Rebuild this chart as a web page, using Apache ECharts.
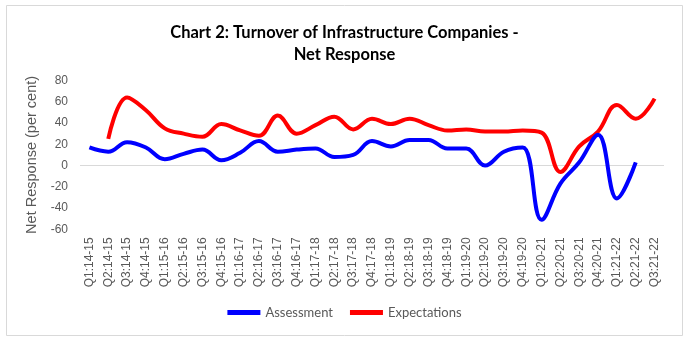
<!DOCTYPE html>
<html>
<head>
<meta charset="utf-8">
<script src="https://cdn.jsdelivr.net/npm/echarts@6/dist/echarts.min.js"></script>
<style>
  html, body { margin: 0; padding: 0; background: #ffffff; }
  #chart { width: 689px; height: 342px; }
</style>
</head>
<body>
<div id="chart"></div>
<script>
// Quarter labels (fiscal years 2014-15 to 2021-22)
const quarters = [
  'Q1:14-15','Q2:14-15','Q3:14-15','Q4:14-15',
  'Q1:15-16','Q2:15-16','Q3:15-16','Q4:15-16',
  'Q1:16-17','Q2:16-17','Q3:16-17','Q4:16-17',
  'Q1:17-18','Q2:17-18','Q3:17-18','Q4:17-18',
  'Q1:18-19','Q2:18-19','Q3:18-19','Q4:18-19',
  'Q1:19-20','Q2:19-20','Q3:19-20','Q4:19-20',
  'Q1:20-21','Q2:20-21','Q3:20-21','Q4:20-21',
  'Q1:21-22','Q2:21-22','Q3:21-22'
];

// Net response, per cent
const assessment = [
  17, 13, 22, 17,
  6, 11, 15, 5,
  12, 23, 13, 15,
  16, 8, 10, 23,
  18, 24, 24, 16,
  16, 0, 13, 17,
  -51, -17, 3, 29,
  -31, 3, null
];

const expectations = [
  null, 25, 64, 52,
  35, 30, 27, 39,
  33, 28, 47, 30,
  38, 46, 34, 44,
  39, 44, 38, 33,
  34, 32, 32, 33,
  31, -6, 18, 32,
  57, 44, 63
];

const yTicks = { min: -60, max: 80, interval: 20 };

const chart = echarts.init(document.getElementById('chart'), null, { renderer: 'canvas' });

chart.setOption({
  backgroundColor: '#ffffff',
  animation: false,
  graphic: [{
    type: 'rect',
    shape: { x: 6.5, y: 5.5, width: 676, height: 330 },
    style: { fill: 'none', stroke: '#d9d9d9', lineWidth: 1 },
    silent: true
  }],
  title: {
    text: 'Chart 2: Turnover of Infrastructure Companies -\nNet Response',
    left: 'center',
    top: 17,
    textStyle: {
      fontFamily: 'Lato',
      fontWeight: 'bold',
      fontSize: 16.5,
      lineHeight: 22,
      color: '#000000'
    }
  },
  legend: {
    bottom: 18,
    left: 'center',
    itemWidth: 33,
    itemHeight: 5,
    itemGap: 17,
    icon: 'rect',
    textStyle: {
      fontFamily: 'Lato',
      fontSize: 13,
      color: '#595959'
    },
    data: ['Assessment', 'Expectations']
  },
  grid: {
    left: 80,
    right: 25,
    top: 80.5,
    bottom: 112.7
  },
  xAxis: {
    type: 'category',
    data: quarters,
    boundaryGap: true,
    axisLine: { show: false },
    axisTick: { show: false },
    axisLabel: {
      rotate: 90,
      interval: 0,
      margin: 8,
      fontFamily: 'Liberation Sans',
      fontSize: 12,
      color: '#595959'
    }
  },
  yAxis: {
    type: 'value',
    min: yTicks.min,
    max: yTicks.max,
    interval: yTicks.interval,
    name: 'Net Response (per cent)',
    nameLocation: 'middle',
    nameGap: 36,
    nameRotate: 90,
    nameTextStyle: {
      fontFamily: 'Liberation Sans',
      fontSize: 14.5,
      color: '#595959'
    },
    axisLine: { show: false },
    axisTick: { show: false },
    splitLine: { show: false },
    axisLabel: {
      margin: 12,
      fontFamily: 'Liberation Sans',
      fontSize: 12,
      color: '#595959'
    }
  },
  series: [
    {
      name: 'Assessment',
      type: 'line',
      data: assessment,
      smooth: 0.4,
      showSymbol: false,
      symbol: 'none',
      color: '#0000ff',
      lineStyle: { width: 4, color: '#0000ff' },
      markLine: {
        silent: true,
        symbol: 'none',
        label: { show: false },
        lineStyle: { color: '#d9d9d9', width: 1, type: 'solid' },
        data: [{ yAxis: 0 }],
        z: 1
      },
      z: 3
    },
    {
      name: 'Expectations',
      type: 'line',
      data: expectations,
      smooth: 0.4,
      showSymbol: false,
      symbol: 'none',
      color: '#ff0000',
      lineStyle: { width: 4, color: '#ff0000' },
      z: 2
    }
  ]
});
</script>
</body>
</html>
